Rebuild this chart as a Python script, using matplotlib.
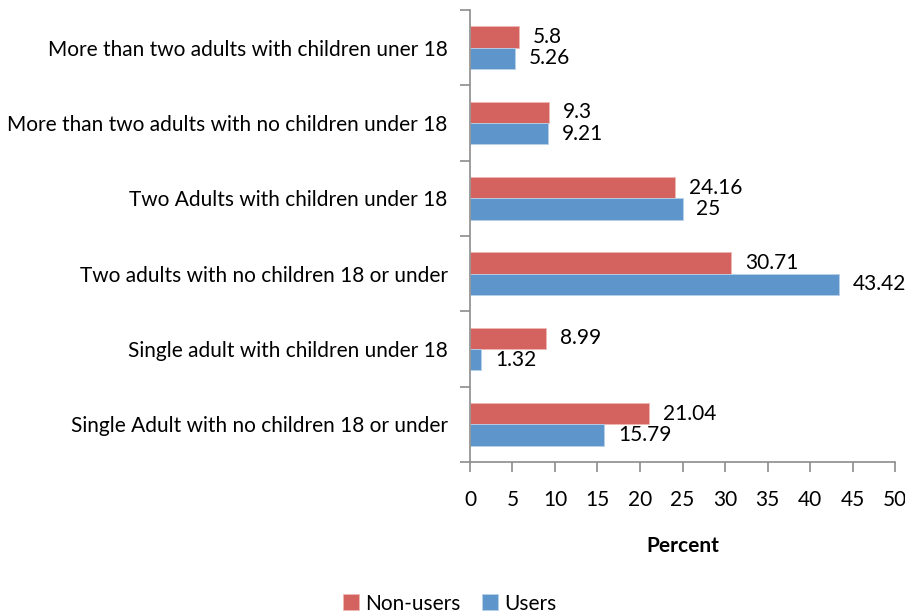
import matplotlib.pyplot as plt
import numpy as np

plt.rcParams['font.family'] = ['Lato', 'DejaVu Sans']

categories = [
    'Single Adult with no children 18 or under',
    'Single adult with children under 18',
    'Two adults with no children 18 or under',
    'Two Adults with children under 18',
    'More than two adults with no children under 18',
    'More than two adults with children uner 18',
]
non_users = [21.04, 8.99, 30.71, 24.16, 9.3, 5.8]
users = [15.79, 1.32, 43.42, 25, 9.21, 5.26]
xticks = np.arange(0, 55, 5)

red = '#D4635F'
blue = '#5E96CB'
axis_gray = '#8C8C8C'
fs = 15

fig = plt.figure(figsize=(9.05, 6.16), dpi=100)
ax = fig.add_axes([0.5193, 0.25, 0.4697, 0.7338])

y = np.arange(len(categories))
h = 0.285
b_non = ax.barh(y + h / 2, non_users, h, color=red, edgecolor='#F0B8B5', linewidth=0.6, label='Non-users')
b_use = ax.barh(y - h / 2, users, h, color=blue, edgecolor='#B8D0EA', linewidth=0.6, label='Users')

ax.bar_label(b_non, labels=[f'{v:g}' for v in non_users], padding=10, fontsize=fs)
ax.bar_label(b_use, labels=[f'{v:g}' for v in users], padding=10, fontsize=fs)

ax.set_xlim(0, 50)
ax.set_ylim(-0.5, len(categories) - 0.5)
ax.set_xticks(xticks)
ax.set_xticklabels([str(t) for t in xticks], fontsize=fs)
ax.tick_params(axis='x', length=7, color=axis_gray, width=1.2, pad=13)

# category labels centred, ticks at the category boundaries
ax.set_yticks(y)
ax.set_yticklabels(categories, fontsize=fs)
ax.tick_params(axis='y', length=0, pad=16)
ax.set_yticks(np.arange(-0.5, len(categories), 1), minor=True)
ax.tick_params(axis='y', which='minor', length=7, color=axis_gray, width=1.2)

for s in ['top', 'right']:
    ax.spines[s].set_visible(False)
for s in ['left', 'bottom']:
    ax.spines[s].set_color(axis_gray)
    ax.spines[s].set_linewidth(1.2)

ax.set_xlabel('Percent', fontsize=fs, fontweight='bold', labelpad=19)

handles, labels = ax.get_legend_handles_labels()
fig.legend(handles, labels, loc='center', bbox_to_anchor=(0.497, 0.02), ncol=2,
           frameon=False, fontsize=fs, handlelength=0.8, handleheight=0.8,
           handletextpad=0.3, columnspacing=1.0)

fig.savefig('out.png', dpi=100)
